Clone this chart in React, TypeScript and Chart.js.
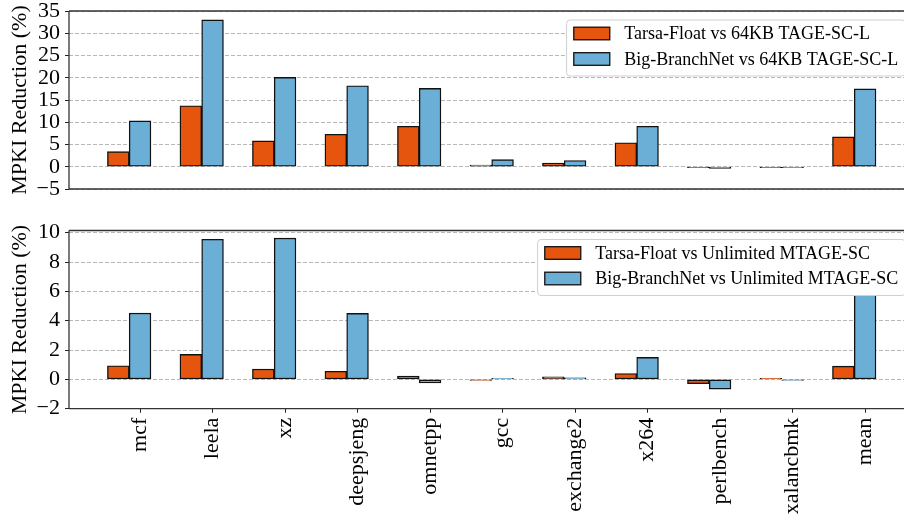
import { useEffect, useRef } from 'react';
import { Chart, registerables } from 'chart.js';

Chart.register(...registerables);

// SPEC CPU 2017 benchmarks plus the overall mean
const benchmarks = ['mcf', 'leela', 'xz', 'deepsjeng', 'omnetpp', 'gcc', 'exchange2', 'x264', 'perlbench', 'xalancbmk', 'mean'];

// MPKI reduction (%) relative to a 64KB TAGE-SC-L
const tarsaVs64KB = [3.4, 13.7, 5.8, 7.3, 9.1, 0.4, 0.8, 5.4, -0.15, -0.05, 6.7];
const bigBranchNetVs64KB = [10.3, 33.0, 20.1, 18.2, 17.6, 1.6, 1.4, 9.1, -0.35, -0.05, 17.5];

// MPKI reduction (%) relative to an unlimited MTAGE-SC
const tarsaVsMtage = [0.93, 1.7, 0.7, 0.55, 0.22, -0.03, 0.18, 0.4, -0.3, 0.01, 0.9];
const bigBranchNetVsMtage = [4.52, 9.55, 9.63, 4.5, -0.25, 0.04, 0.1, 1.5, -0.66, -0.01, 6.5];

const topLegend = ['Tarsa-Float vs 64KB TAGE-SC-L', 'Big-BranchNet vs 64KB TAGE-SC-L'];
const bottomLegend = ['Tarsa-Float vs Unlimited MTAGE-SC', 'Big-BranchNet vs Unlimited MTAGE-SC'];

const topYTicks = [-5, 0, 5, 10, 15, 20, 25, 30, 35];
const bottomYTicks = [-2, 0, 2, 4, 6, 8, 10];

const ORANGE = '#e6550d';
const BLUE = '#6baed6';
const SERIF = '"Liberation Serif", "Times New Roman", serif';
const CANVAS_W = 930;
const BAR_W = 21.75;

const fmtTick = (v: number) => (v < 0 ? '\u2212' + Math.abs(v) : String(v));

// Axes frame and an opaque matplotlib-style legend in the upper right
const framePlugin = {
  id: 'frameAndLegend',
  afterDraw(chart: any) {
    const { ctx, chartArea: a } = chart;
    ctx.save();
    ctx.strokeStyle = '#333';
    ctx.lineWidth = 1.3;
    ctx.beginPath();
    ctx.moveTo(a.left, a.top);
    ctx.lineTo(a.right, a.top);
    ctx.moveTo(a.left, a.bottom);
    ctx.lineTo(a.right, a.bottom);
    ctx.moveTo(a.left, a.top);
    ctx.lineTo(a.left, a.bottom);
    ctx.moveTo(a.right, a.top);
    ctx.lineTo(a.right, a.bottom);
    ctx.stroke();

    const fs = 18;
    ctx.font = `${fs}px ${SERIF}`;
    const items = chart.data.datasets.filter((d: any) => d.label);
    const textW = Math.max(...items.map((d: any) => ctx.measureText(d.label).width));
    const pad = 0.4 * fs;
    const handleW = 2 * fs;
    const handleH = 0.7 * fs;
    const gap = 0.8 * fs;
    const w = pad + handleW + gap + textW + pad;
    const h = 56;
    const x = a.right - 0.5 * fs - w;
    const y = a.top + 0.5 * fs;

    ctx.beginPath();
    ctx.roundRect(x, y, w, h, 3.5);
    ctx.fillStyle = '#ffffff';
    ctx.fill();
    ctx.strokeStyle = '#d0d0d0';
    ctx.lineWidth = 1;
    ctx.stroke();

    items.forEach((d: any, i: number) => {
      const cy = y + 13.5 + i * 25.5;
      ctx.fillStyle = d.backgroundColor;
      ctx.fillRect(x + pad, cy - handleH / 2, handleW, handleH);
      ctx.strokeStyle = '#111';
      ctx.lineWidth = 1.3;
      ctx.strokeRect(x + pad, cy - handleH / 2, handleW, handleH);
      ctx.fillStyle = '#000';
      ctx.textBaseline = 'middle';
      ctx.textAlign = 'left';
      ctx.fillText(d.label, x + pad + handleW + gap, cy + 1);
    });
    ctx.restore();
  },
};

type PanelProps = {
  top: number;
  height: number;
  seriesA: number[];
  seriesB: number[];
  labels: string[];
  yMin: number;
  yMax: number;
  yTicks: number[];
  showCategories: boolean;
  padTop: number;
  padBottom: number;
  xHeight: number;
};

function Panel(p: PanelProps) {
  const ref = useRef<HTMLCanvasElement>(null);

  useEffect(() => {
    const barStyle = {
      borderColor: '#111',
      borderWidth: 1.4,
      borderSkipped: false,
      barThickness: BAR_W,
      minBarLength: 1,
    };
    const chart = new Chart(ref.current!, {
      type: 'bar',
      data: {
        datasets: [
          { label: p.labels[0], data: p.seriesA.map((v, i) => ({ x: i, y: v })), backgroundColor: ORANGE, ...barStyle },
          { label: p.labels[1], data: p.seriesB.map((v, i) => ({ x: i, y: v })), backgroundColor: BLUE, ...barStyle },
          // empty third slot so each benchmark tick sits under the blue bar
          { label: '', data: [], backgroundColor: 'rgba(0,0,0,0)', barThickness: BAR_W },
        ],
      } as any,
      options: {
        responsive: false,
        animation: false,
        events: [],
        layout: { padding: { top: p.padTop, right: 15.6, left: 0, bottom: p.padBottom } },
        plugins: { legend: { display: false }, tooltip: { enabled: false } },
        scales: {
          x: {
            type: 'linear',
            offset: false,
            display: p.showCategories,
            min: -0.98,
            max: 10.68,
            afterBuildTicks: (axis: any) => {
              axis.ticks = benchmarks.map((_, i) => ({ value: i }));
            },
            afterFit: (axis: any) => {
              axis.height = p.xHeight;
              axis.paddingLeft = 0;
              axis.paddingRight = 0;
            },
            ticks: {
              autoSkip: false,
              minRotation: 90,
              maxRotation: 90,
              padding: 5,
              color: '#000',
              font: { family: SERIF, size: 22 },
              callback: (v: any) => benchmarks[v] ?? '',
            },
            grid: {
              display: true,
              offset: false,
              drawOnChartArea: false,
              drawTicks: true,
              tickLength: 4,
              tickColor: '#222',
              tickWidth: 1,
            },
            border: { display: false },
          },
          y: {
            min: p.yMin,
            max: p.yMax,
            afterBuildTicks: (axis: any) => {
              axis.ticks = p.yTicks.map((v) => ({ value: v }));
            },
            afterFit: (axis: any) => {
              axis.width = 69;
              axis.paddingTop = 0;
              axis.paddingBottom = 0;
            },
            title: {
              display: true,
              text: 'MPKI Reduction (%)',
              color: '#000',
              font: { family: SERIF, size: 22 },
              padding: { top: 7, bottom: 0 },
            },
            ticks: {
              autoSkip: false,
              padding: 5,
              color: '#000',
              font: { family: SERIF, size: 22 },
              callback: (v: any) => fmtTick(Number(v)),
            },
            grid: { color: '#b8b8b8', lineWidth: 1, tickLength: 4, tickColor: '#222', tickWidth: 1 },
            border: { display: false, dash: [4, 2] },
          },
        },
      } as any,
      plugins: [framePlugin],
    });
    return () => chart.destroy();
  }, []);

  return (
    <canvas
      ref={ref}
      width={CANVAS_W}
      height={p.height}
      style={{ position: 'absolute', left: 0, top: p.top, width: CANVAS_W, height: p.height }}
    />
  );
}

export default function App() {
  return (
    <div
      style={{
        position: 'fixed',
        left: 0,
        top: 0,
        width: 904,
        height: 516,
        overflow: 'hidden',
        background: '#fff',
      }}
    >
      <Panel
        top={0}
        height={210}
        seriesA={tarsaVs64KB}
        seriesB={bigBranchNetVs64KB}
        labels={topLegend}
        yMin={-5}
        yMax={35}
        yTicks={topYTicks}
        showCategories={false}
        padTop={11}
        padBottom={21}
        xHeight={0}
      />
      <Panel
        top={210}
        height={306}
        seriesA={tarsaVsMtage}
        seriesB={bigBranchNetVsMtage}
        labels={bottomLegend}
        yMin={-2}
        yMax={10.15}
        yTicks={bottomYTicks}
        showCategories={true}
        padTop={20.5}
        padBottom={0}
        xHeight={107.3}
      />
    </div>
  );
}
